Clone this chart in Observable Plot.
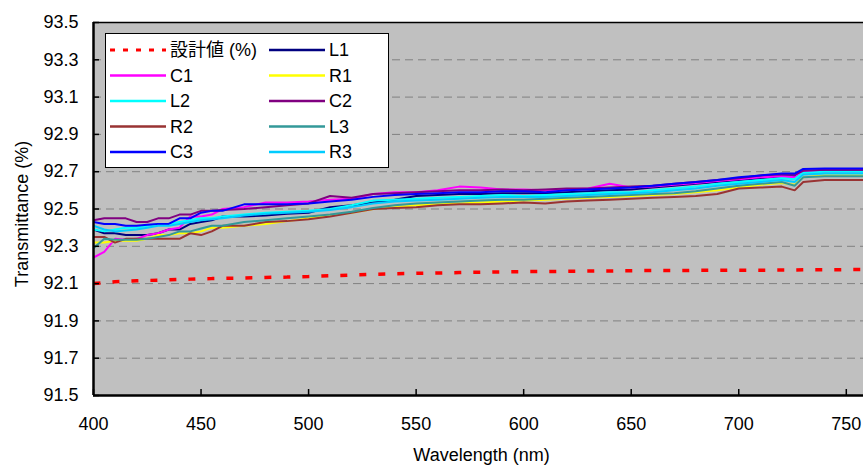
<!DOCTYPE html>
<html>
<head>
<meta charset="utf-8">
<script src="https://cdn.jsdelivr.net/npm/d3@7"></script>
<script src="https://cdn.jsdelivr.net/npm/@observablehq/plot@0.6"></script>
<style>
  html, body { margin: 0; padding: 0; background: #fff; }
  #wrap { position: relative; width: 863px; height: 466px; overflow: hidden; font-family: "Liberation Sans", Arial, "Noto Sans CJK JP", sans-serif; }
  #wrap > svg { position: absolute; left: 0; top: 0; }
</style>
</head>
<body>
<div id="wrap"></div>
<script>
// ---- data ----
const wavelengths = [400,405,410,415,420,425,430,435,440,445,450,455,460,470,480,490,500,510,520,530,540,550,560,570,580,590,600,610,620,630,640,650,660,670,680,690,700,710,720,726,730,740,750,758];

const seriesNames = ["設計値 (%)", "L1", "C1", "R1", "L2", "C2", "R2", "L3", "C3", "R3"];
const seriesColors = ["#ff0000", "#000080", "#ff00ff", "#ffff00", "#00ffff", "#800080", "#993333", "#339999", "#0000ff", "#00ccff"];

const design = [92.10,92.105,92.11,92.112,92.115,92.117,92.118,92.12,92.122,92.124,92.126,92.127,92.128,92.13,92.133,92.135,92.138,92.142,92.146,92.15,92.153,92.155,92.157,92.159,92.161,92.163,92.164,92.165,92.166,92.167,92.168,92.169,92.17,92.17,92.171,92.171,92.172,92.172,92.173,92.173,92.174,92.174,92.175,92.175];
const L1 = [92.39,92.37,92.37,92.36,92.36,92.36,92.37,92.39,92.39,92.42,92.43,92.44,92.46,92.46,92.465,92.475,92.48,92.51,92.52,92.535,92.55,92.57,92.575,92.58,92.58,92.585,92.585,92.585,92.59,92.595,92.60,92.605,92.615,92.625,92.635,92.645,92.655,92.665,92.675,92.675,92.70,92.705,92.705,92.705];
const C1 = [92.24,92.27,92.34,92.335,92.34,92.36,92.37,92.39,92.40,92.46,92.46,92.47,92.50,92.51,92.535,92.535,92.54,92.55,92.555,92.58,92.59,92.59,92.60,92.62,92.615,92.605,92.605,92.60,92.605,92.61,92.635,92.615,92.62,92.63,92.64,92.65,92.66,92.67,92.675,92.67,92.70,92.70,92.70,92.70];
const R1 = [92.32,92.32,92.33,92.33,92.33,92.34,92.36,92.36,92.37,92.37,92.38,92.40,92.40,92.41,92.42,92.435,92.45,92.465,92.48,92.50,92.51,92.52,92.525,92.53,92.535,92.54,92.545,92.55,92.555,92.56,92.565,92.57,92.575,92.58,92.59,92.60,92.615,92.63,92.64,92.63,92.67,92.68,92.68,92.68];
const L2 = [92.39,92.38,92.39,92.40,92.40,92.41,92.42,92.42,92.43,92.44,92.45,92.45,92.46,92.47,92.48,92.485,92.49,92.50,92.52,92.545,92.55,92.555,92.56,92.565,92.57,92.575,92.57,92.575,92.58,92.585,92.59,92.59,92.60,92.61,92.62,92.635,92.645,92.655,92.665,92.66,92.695,92.70,92.70,92.70];
const C2 = [92.44,92.45,92.45,92.45,92.43,92.43,92.45,92.45,92.47,92.47,92.49,92.49,92.495,92.50,92.51,92.52,92.53,92.57,92.56,92.58,92.585,92.59,92.595,92.60,92.60,92.605,92.60,92.605,92.61,92.61,92.615,92.62,92.625,92.635,92.645,92.655,92.665,92.68,92.685,92.685,92.705,92.71,92.71,92.71];
const R2 = [92.35,92.35,92.32,92.34,92.34,92.34,92.34,92.34,92.34,92.37,92.36,92.38,92.41,92.41,92.43,92.435,92.445,92.46,92.48,92.50,92.505,92.51,92.52,92.525,92.525,92.53,92.535,92.53,92.54,92.545,92.55,92.555,92.56,92.565,92.57,92.58,92.61,92.615,92.62,92.60,92.645,92.655,92.655,92.655];
const L3 = [92.29,92.34,92.335,92.335,92.335,92.34,92.35,92.36,92.38,92.38,92.395,92.41,92.41,92.43,92.44,92.45,92.46,92.47,92.485,92.505,92.52,92.53,92.535,92.54,92.545,92.55,92.55,92.555,92.56,92.565,92.57,92.575,92.58,92.585,92.595,92.61,92.625,92.635,92.645,92.625,92.67,92.675,92.675,92.675];
const C3 = [92.43,92.42,92.42,92.41,92.41,92.415,92.42,92.42,92.45,92.45,92.48,92.49,92.49,92.525,92.525,92.525,92.53,92.54,92.55,92.565,92.575,92.58,92.585,92.59,92.59,92.595,92.595,92.59,92.60,92.605,92.61,92.615,92.625,92.635,92.645,92.655,92.67,92.68,92.69,92.69,92.715,92.717,92.717,92.717];
const R3 = [92.41,92.39,92.38,92.385,92.39,92.40,92.41,92.41,92.42,92.43,92.44,92.445,92.45,92.465,92.475,92.48,92.485,92.495,92.51,92.53,92.54,92.545,92.55,92.555,92.56,92.565,92.565,92.565,92.57,92.575,92.58,92.585,92.59,92.60,92.61,92.625,92.635,92.645,92.655,92.645,92.685,92.69,92.69,92.69];

const seriesValues = [design, L1, C1, R1, L2, C2, R2, L3, C3, R3];

const xTicks = [400,450,500,550,600,650,700,750];
const yTicks = [91.5,91.7,91.9,92.1,92.3,92.5,92.7,92.9,93.1,93.3,93.5];
const gridTicks = [91.7,91.9,92.1,92.3,92.5,92.7,92.9,93.1,93.3];
const xLabel = "Wavelength (nm)";
const yLabel = "Transmittance (%)";

// ---- chart ----
const tables = seriesValues.map(vals => wavelengths.map((w, i) => ({w, v: vals[i]})));

const lineMarks = tables.map((t, k) => Plot.line(t, {
  x: "w", y: "v",
  stroke: seriesColors[k],
  strokeWidth: k === 0 ? 3.5 : 2,
  strokeDasharray: k === 0 ? "7,12" : null,
  strokeLinecap: "butt",
  strokeLinejoin: "miter",
  clip: true
}));

const chart = Plot.plot({
  width: 863,
  height: 466,
  marginLeft: 93,
  marginRight: 0,
  marginTop: 22,
  marginBottom: 71,
  style: {fontSize: "18px", fontFamily: '"Liberation Sans", Arial, sans-serif', color: "#000", background: "transparent"},
  x: {domain: [400, 758]},
  y: {domain: [91.5, 93.5]},
  marks: [
    Plot.frame({fill: "#c0c0c0", stroke: null}),
    Plot.gridY(gridTicks, {stroke: "#808080", strokeOpacity: 1, strokeWidth: 1, strokeDasharray: "8,5"}),
    ...lineMarks,
    Plot.axisY({ticks: yTicks, tickSize: 0, tickPadding: 15, tickFormat: d3.format(".1f"), label: null, fontSize: 18}),
    Plot.axisY({ticks: yTicks, tickSize: 6, dx: 6, text: null, label: null, stroke: "#000", strokeWidth: 1.5}),
    Plot.axisX({ticks: xTicks, tickSize: 0, tickPadding: 22, tickFormat: d => String(d), label: null, fontSize: 18}),
    Plot.axisX({ticks: xTicks, tickSize: 6, dy: -6, text: null, label: null, stroke: "#000", strokeWidth: 1.5}),
    Plot.ruleY([93.5], {stroke: "#000", strokeWidth: 1.5}),
    Plot.ruleY([91.5], {stroke: "#000", strokeWidth: 2.5}),
    Plot.ruleX([400], {stroke: "#000", strokeWidth: 2.5}),
    Plot.text([yLabel], {frameAnchor: "left", textAnchor: "middle", dx: -71, dy: 5, rotate: -90, text: d => d, fontSize: 18, fill: "#000"}),
    Plot.text([xLabel], {frameAnchor: "bottom", textAnchor: "middle", lineAnchor: "bottom", dx: 3, dy: 65, text: d => d, fontSize: 18, fill: "#000"})
  ]
});

const wrap = document.getElementById("wrap");
wrap.appendChild(chart);

// ---- legend (overlay) ----
const legendSvg = d3.select(wrap).append("svg")
  .attr("width", 863).attr("height", 466)
  .style("position", "absolute").style("left", "0px").style("top", "0px");

legendSvg.append("rect")
  .attr("x", 105.5).attr("y", 33.5).attr("width", 283).attr("height", 134)
  .attr("fill", "#fff").attr("stroke", "#000").attr("stroke-width", 1);

seriesNames.forEach((name, k) => {
  const row = Math.floor(k / 2), col = k % 2;
  const y = 50 + row * 25.5;
  const x0 = col === 0 ? 110 : 269;
  legendSvg.append("line")
    .attr("x1", x0).attr("x2", x0 + 56).attr("y1", y).attr("y2", y)
    .attr("stroke", seriesColors[k])
    .attr("stroke-width", k === 0 ? 3 : 2.5)
    .attr("stroke-dasharray", k === 0 ? "5,8" : null);
  legendSvg.append("text")
    .attr("x", x0 + 60).attr("y", y).attr("dy", "0.36em")
    .attr("font-size", 18)
    .attr("font-family", '"Liberation Sans", Arial, "Noto Sans CJK JP", sans-serif')
    .attr("fill", "#000")
    .text(name);
});
</script>
</body>
</html>
